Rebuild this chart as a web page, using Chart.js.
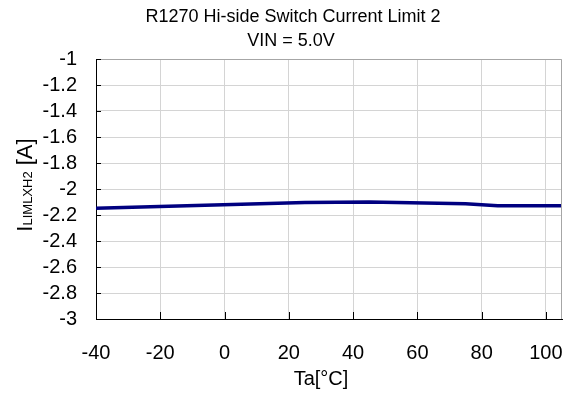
<!DOCTYPE html>
<html>
<head>
<meta charset="utf-8">
<title>R1270 Hi-side Switch Current Limit 2</title>
<script src="https://cdn.jsdelivr.net/npm/chart.js@4"></script>
<style>
    html, body { margin: 0; padding: 0; background: #fff; }
    #wrap { width: 571px; height: 396px; }
</style>
</head>
<body>
<div id="wrap"><canvas id="myChart" width="571" height="396"></canvas></div>
<script>
// chart data
const temps = [-40, 25, 45, 75, 85, 105];
const currents = [-2.148, -2.104, -2.100, -2.113, -2.128, -2.128];
const titleLines = ["R1270 Hi-side Switch Current Limit 2", "VIN = 5.0V"];
const xTitle = "Ta[°C]";
const yTitleParts = ["I", "LIMLXH2", " [A]"];

const fontFamily = "'Liberation Sans', Arial, sans-serif";

// titles, frame, inner tick marks
const framePlugin = {
    id: 'frame',
    afterDraw(chart) {
        const { ctx, chartArea } = chart;
        const xScale = chart.scales.x;
        const yScale = chart.scales.y;
        ctx.save();

        // top and right border
        ctx.strokeStyle = '#a6a6a6';
        ctx.lineWidth = 1;
        ctx.beginPath();
        ctx.moveTo(chartArea.left, chartArea.top + 0.5);
        ctx.lineTo(chartArea.right - 0.5, chartArea.top + 0.5);
        ctx.lineTo(chartArea.right - 0.5, chartArea.bottom);
        ctx.stroke();

        // tick marks pointing inside
        ctx.strokeStyle = '#000';
        ctx.beginPath();
        xScale.ticks.forEach((t) => {
            const px = Math.round(xScale.getPixelForValue(t.value)) + 0.5;
            ctx.moveTo(px, chartArea.bottom);
            ctx.lineTo(px, chartArea.bottom - 7);
        });
        yScale.ticks.forEach((t) => {
            const py = Math.round(yScale.getPixelForValue(t.value)) + 0.5;
            ctx.moveTo(chartArea.left, py);
            ctx.lineTo(chartArea.left + 5, py);
        });
        ctx.stroke();

        // chart title
        ctx.fillStyle = '#000';
        ctx.textAlign = 'center';
        ctx.textBaseline = 'alphabetic';
        ctx.font = `18px ${fontFamily}`;
        ctx.fillText(titleLines[0], 293, 22);
        ctx.fillText(titleLines[1], 291, 46);

        // x title
        ctx.font = `20px ${fontFamily}`;
        ctx.fillText(xTitle, 321, 385);

        // y title: I + subscript + [A]
        ctx.textAlign = 'left';
        const fonts = [`22px ${fontFamily}`, `13px ${fontFamily}`, `22px ${fontFamily}`];
        let total = 0;
        const widths = yTitleParts.map((p, i) => {
            ctx.font = fonts[i];
            const w = ctx.measureText(p).width;
            total += w;
            return w;
        });
        ctx.translate(32, 185);
        ctx.rotate(-Math.PI / 2);
        let pos = -total / 2;
        yTitleParts.forEach((p, i) => {
            ctx.font = fonts[i];
            ctx.fillText(p, pos, 0);
            pos += widths[i];
        });
        ctx.restore();
    }
};

const ctx = document.getElementById("myChart").getContext("2d");

const lineChart = new Chart(ctx, {
    type: "line",
    data: {
        datasets: [
            {
                label: "ILIMLXH2",
                data: temps.map((t, i) => ({ x: t, y: currents[i] })),
                borderColor: "#000080",
                borderWidth: 3.5,
                pointRadius: 0,
                tension: 0,
            },
        ],
    },
    options: {
        responsive: false,
        animation: false,
        layout: {
            padding: { left: 0, right: 9, top: 59, bottom: 0 },
        },
        scales: {
            x: {
                type: "linear",
                min: -40,
                max: 105,
                afterFit: (scale) => {
                    scale.height = 77;
                    scale.paddingLeft = 0;
                    scale.paddingRight = 0;
                },
                grid: { color: "#d4d4d4", drawTicks: false },
                border: { color: "#000", width: 1 },
                ticks: {
                    stepSize: 20,
                    includeBounds: false,
                    autoSkip: false,
                    padding: 22,
                    color: "#000",
                    font: { family: fontFamily, size: 20 },
                },
            },
            y: {
                min: -3,
                max: -1,
                afterFit: (scale) => {
                    scale.width = 96;
                    scale.paddingTop = 0;
                    scale.paddingBottom = 0;
                },
                grid: { color: "#d4d4d4", drawTicks: false },
                border: { color: "#000", width: 1 },
                ticks: {
                    stepSize: 0.2,
                    autoSkip: false,
                    padding: 19,
                    color: "#000",
                    font: { family: fontFamily, size: 20 },
                    callback: (v) => `${parseFloat(v.toFixed(1))}`,
                },
            },
        },
        plugins: {
            legend: { display: false },
            tooltip: { enabled: false },
            title: { display: false },
        },
    },
    plugins: [framePlugin],
});
</script>
</body>
</html>
